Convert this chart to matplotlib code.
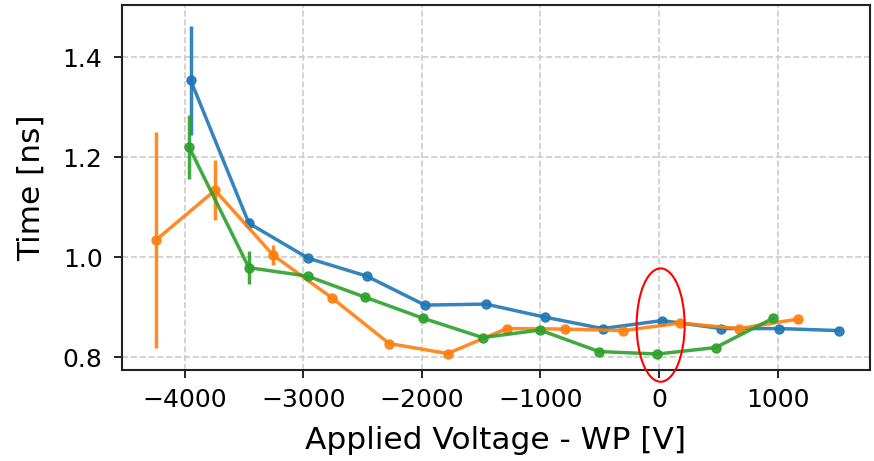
import numpy as np
from matplotlib import pyplot as plt
from matplotlib.patches import Ellipse

# blue series
v_blue = [-3950, -3460, -2960, -2465, -1975, -1460, -965, -475, 25, 525, 1015, 1515]
t_blue = [1.354, 1.068, 0.998, 0.962, 0.904, 0.906, 0.880, 0.857, 0.873, 0.857, 0.857, 0.853]
e_blue = [0.110, 0.011, 0, 0, 0, 0, 0, 0, 0, 0, 0, 0]

# orange series
v_orange = [-4245, -3745, -3255, -2762, -2276, -1783, -1285, -793, -301, 177, 678, 1170]
t_orange = [1.034, 1.134, 1.004, 0.919, 0.827, 0.807, 0.857, 0.856, 0.853, 0.868, 0.857, 0.876]
e_orange = [0.216, 0.060, 0.020, 0, 0, 0, 0, 0, 0, 0, 0, 0]

# green series
v_green = [-3963, -3460, -2965, -2481, -1994, -1488, -1004, -506, -14, 478, 965]
t_green = [1.220, 0.979, 0.962, 0.920, 0.878, 0.839, 0.854, 0.811, 0.806, 0.819, 0.878]
e_green = [0.064, 0.033, 0, 0, 0, 0, 0, 0, 0, 0, 0]

fig = plt.figure(figsize=(8.74, 4.61), dpi=100)
ax = fig.add_axes([0.1396, 0.1974, 0.8558, 0.7916])

for v, t, e, c in [(v_blue, t_blue, e_blue, 'tab:blue'),
                   (v_orange, t_orange, e_orange, 'tab:orange'),
                   (v_green, t_green, e_green, 'tab:green')]:
    ax.errorbar(v, t, yerr=e, color=c, marker='o', markersize=6.5, lw=2.5,
                elinewidth=2.5, alpha=0.9)

# red ellipse around 0 V
ax.add_patch(Ellipse((14, 0.864), 405, 0.227, fill=False, edgecolor='red',
                     lw=1.5, clip_on=False, zorder=5))

ax.set_xlim(-4530, 1780)
ax.set_ylim(0.774, 1.505)
ax.set_xticks([-4000, -3000, -2000, -1000, 0, 1000])
ax.set_yticks([0.8, 1.0, 1.2, 1.4])
ax.grid(True, linestyle='--', color='#cccccc', lw=1.2)
ax.set_axisbelow(True)
ax.tick_params(labelsize=18, length=6, width=1.2)
ax.tick_params(axis='x', pad=7)
ax.tick_params(axis='y', pad=8)
for s in ax.spines.values():
    s.set_linewidth(1.5)
    s.set_color('#222222')
ax.set_xlabel('Applied Voltage - WP [V]', fontsize=22.5, labelpad=10)
ax.set_ylabel('Time [ns]', fontsize=22.5, labelpad=12)
fig.savefig('out.png', dpi=100)
